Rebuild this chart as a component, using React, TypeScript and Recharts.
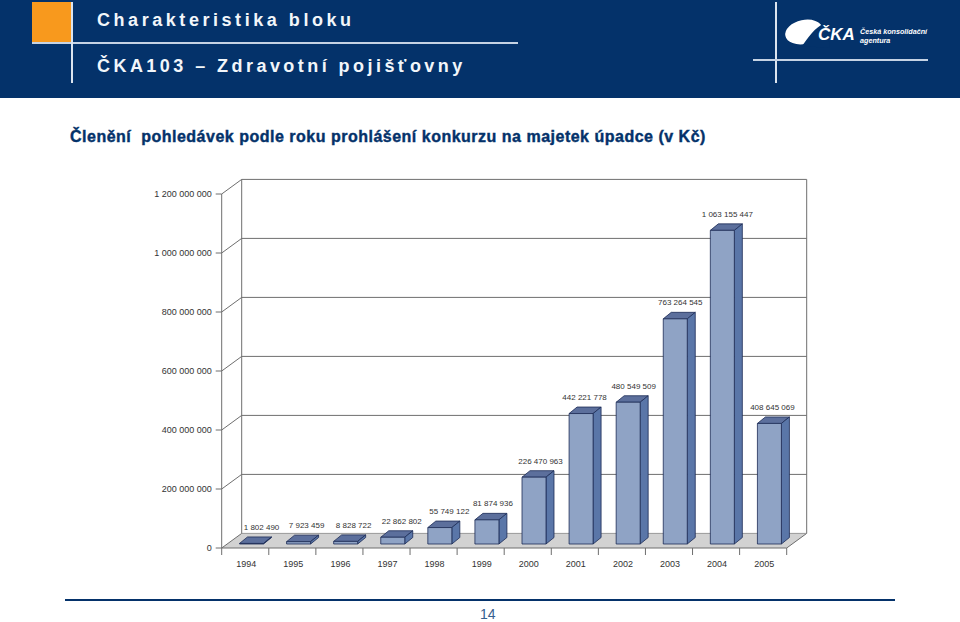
import React from "react";
import { BarChart, Bar, XAxis, YAxis, CartesianGrid, LabelList } from "recharts";

const years = ["1994","1995","1996","1997","1998","1999","2000","2001","2002","2003","2004","2005"];
const claims = [1802490,7923459,8828722,22862802,55749122,81874936,226470963,442221778,480549509,763264545,1063155447,408645069];
const yTicks = [0,200000000,400000000,600000000,800000000,1000000000,1200000000];
const labelNudge = [10,8,8,9,9.5,6,6.5,3.5,5.5,5,5,3];

const data = years.map((year, i) => ({ year, claims: claims[i], nudge: labelNudge[i] }));

const NAVY = "#04326a";
const GRID = "#6e6e6e";
const TEXT = "#333333";
const FONT = "'Liberation Sans', Arial, sans-serif";
const DX = 20, DY = 14.6;          // depth of the back wall
const BAR_DX = 8, BAR_DY = 6.5;    // depth of a bar
const SHIFT_X = 5.8, SHIFT_Y = 4;  // position of bars on the floor
const fmt = (v: number) => String(v).replace(/\B(?=(\d{3})+(?!\d))/g, " ");

const Bar3D = (p: any) => {
  const x = p.x + SHIFT_X, y = p.y - SHIFT_Y, w = p.width, h = Math.max(p.height, 0.4);
  const b = y + h, edge = "#1c2b55";
  return (
    <g strokeLinejoin="round" stroke={edge} strokeWidth={0.8}>
      <polygon points={`${x},${y} ${x + BAR_DX},${y - BAR_DY} ${x + w + BAR_DX},${y - BAR_DY} ${x + w},${y}`} fill="#5c6f9c" />
      <polygon points={`${x + w},${y} ${x + w + BAR_DX},${y - BAR_DY} ${x + w + BAR_DX},${b - BAR_DY} ${x + w},${b}`} fill="#5a76a8" />
      <rect x={x} y={y} width={w} height={h} fill="#8fa3c5" />
    </g>
  );
};

const GridLine = (p: any) => {
  const { x1, x2, y1, index } = p;
  const isFloor = Math.abs(y1 - 548) < 1;
  const isTop = Math.abs(y1 - 194) < 1;
  const bx1 = x1 + DX, bx2 = x2 + DX, by = y1 - DY;
  return (
    <g key={index} stroke={GRID} strokeWidth={1} fill="none">
      {isFloor && <polygon points={`${x1},${y1} ${bx1},${by} ${bx2},${by} ${x2},${y1}`} fill="#d2d2d2" stroke="none" />}
      {isFloor && <line x1={x2} y1={y1} x2={bx2} y2={by} />}
      <line x1={x1} y1={y1} x2={bx1} y2={by} />
      {!isFloor && <line x1={bx1} y1={by} x2={bx2} y2={by} />}
      {isFloor && <line x1={bx1} y1={by} x2={bx2} y2={by} stroke="#999" />}
      {isTop && <line x1={bx1} y1={by} x2={bx1} y2={by + 354} />}
      {isTop && <line x1={bx2} y1={by} x2={bx2} y2={by + 354} />}
    </g>
  );
};

const YearTick = (p: any) => {
  const { x, y, payload, index } = p;
  const step = 565 / years.length;
  const top = 548;
  return (
    <g>
      <line x1={x - step / 2} y1={top} x2={x - step / 2} y2={top + 7} stroke={GRID} />
      {index === years.length - 1 && <line x1={x + step / 2} y1={top} x2={x + step / 2} y2={top + 7} stroke={GRID} />}
      <text x={x + 1} y={567} textAnchor="middle" fontSize={9} fontFamily={FONT} fill={TEXT}>{payload.value}</text>
    </g>
  );
};

const ValueLabel = (p: any) => {
  const { x, y, width, index, value } = p;
  return (
    <text x={x + width / 2 + SHIFT_X + labelNudge[index]} y={y - SHIFT_Y - 13.5} textAnchor="middle" fontSize={8} fontFamily={FONT} fill={TEXT}>
      {fmt(value)}
    </text>
  );
};

const abs = (s: React.CSSProperties): React.CSSProperties => ({ position: "absolute", ...s });
const headText: React.CSSProperties = {
  color: "#f2f6fa", fontFamily: FONT, fontWeight: 700, whiteSpace: "nowrap", lineHeight: 1,
};

export default function App() {
  return (
    <div style={abs({ left: 0, top: 0, width: 960, height: 622, background: "#fff", overflow: "hidden" })}>
      <div style={abs({ left: 0, top: 0, width: 960, height: 98, background: NAVY })} />
      <div style={abs({ left: 32, top: 2, width: 41, height: 40, background: "#f8991d" })} />
      <div style={abs({ left: 32, top: 42, width: 486, height: 2, background: "#c6d3e4" })} />
      <div style={abs({ left: 71, top: 2, width: 1.5, height: 81, background: "#dbe4ef" })} />
      <div style={abs({ ...headText, left: 97, top: 11, fontSize: 18, letterSpacing: 3.55 })}>Charakteristika bloku</div>
      <div style={abs({ ...headText, left: 97, top: 57, fontSize: 18, letterSpacing: 3.45 })}>ČKA103 – Zdravotní pojišťovny</div>
      <div style={abs({ left: 775, top: 2, width: 1.5, height: 81, background: "#dbe4ef" })} />
      <div style={abs({ left: 753, top: 59, width: 175, height: 2, background: "#c6d3e4" })} />
      <svg style={abs({ left: 780, top: 14 })} width={60} height={36}>
        <ellipse cx={24} cy={18} rx={19} ry={12} transform="rotate(-12 24 18)" fill="#fff" />
        <path d="M22 32 C28 24 34 14 46 8 L50 34 Z" fill={NAVY} />
      </svg>
      <div style={abs({ ...headText, left: 818, top: 26, fontSize: 17, fontStyle: "italic", color: "#fff" })}>ČKA</div>
      <div style={abs({ ...headText, left: 860, top: 27, fontSize: 7.2, fontStyle: "italic", lineHeight: "9px", color: "#fff" })}>Česká konsolidační<br />agentura</div>

      <div style={abs({ left: 70, top: 128, fontFamily: FONT, fontWeight: 700, fontSize: 16, letterSpacing: 0.5, color: NAVY, whiteSpace: "pre", lineHeight: "18px", WebkitTextStroke: "0.4px " + NAVY })}>
        {"Členění  pohledávek podle roku prohlášení konkurzu na majetek úpadce (v Kč)"}
      </div>

      <div style={abs({ left: 0, top: 0 })}>
        <BarChart width={960} height={622} data={data} barSize={24}
          margin={{ top: 194, bottom: 44, left: 101.7, right: 173.3 }}>
          <CartesianGrid vertical={false} horizontal={GridLine as any} />
          <XAxis dataKey="year" interval={0} height={30} tickLine={false} tick={YearTick as any}
            axisLine={{ stroke: GRID }} />
          <YAxis width={120} domain={[0, 1200000000]} ticks={yTicks} tickFormatter={fmt} interval={0}
            tickLine={{ stroke: GRID }} tickSize={6} tickMargin={4} axisLine={{ stroke: GRID }}
            tick={{ fontSize: 9, fontFamily: FONT, fill: TEXT }} />
          <Bar dataKey="claims" shape={Bar3D as any} isAnimationActive={false}>
            <LabelList dataKey="claims" content={ValueLabel as any} />
          </Bar>
        </BarChart>
      </div>

      <div style={abs({ left: 65, top: 599, width: 830, height: 1.5, background: NAVY })} />
      <div style={abs({ left: 480, top: 607, fontFamily: FONT, fontSize: 14, color: "#35608f", lineHeight: "14px" })}>14</div>
    </div>
  );
}
